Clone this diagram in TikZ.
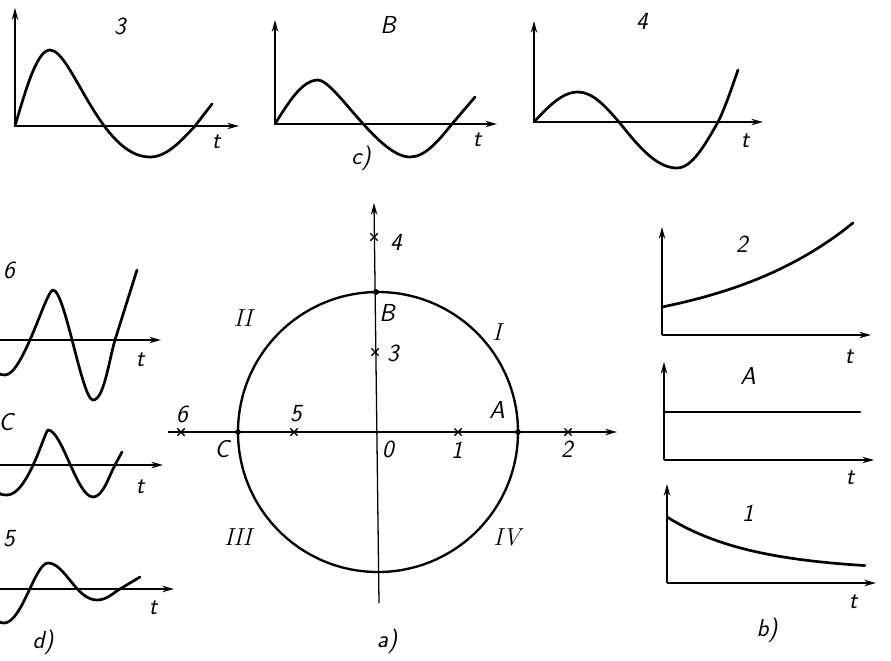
\documentclass[tikz,border=0pt]{standalone}
\usepackage{fontspec}
\usetikzlibrary{arrows.meta,shapes.misc}

\begin{document}
\begin{tikzpicture}[x=0.03cm,y=-0.03cm,
  axis/.style={line width=1.1pt,-{Stealth[length=10pt,width=5.5pt]}},
  curve/.style={line width=2.3pt,line cap=round,line join=round},
  lbl/.style={inner sep=0pt,font=\fontsize{21}{24}\sffamily\itshape},
  roman/.style={inner sep=0pt,font=\fontsize{21}{24}\itshape},
  xmark/.style={cross out,draw,line width=1.2pt,minimum size=5pt,inner sep=0pt},
  dot/.style={circle,fill,inner sep=0pt,minimum size=5pt}]
\path[use as bounding box] (0,0) rectangle (891,660);

% a) z-plane with unit circle
\coordinate (O) at (378,432);
\coordinate (xl) at (168,432);
\coordinate (xr) at (617,432);
\coordinate (yb) at (379,603);
\coordinate (yt) at (374,203);
\draw[axis] (xl) -- (xr);
\draw[axis] (yb) -- (yt);
\draw[line width=2pt] (O) circle (140);
\node[dot] (A) at (518,432) {};
\node[dot] (B) at (376,292) {};
\node[dot] (C) at (238,432) {};
\node[xmark] (p1) at (458,432) {};
\node[xmark] (p2) at (568,432) {};
\node[xmark] (p3) at (375,352) {};
\node[xmark] (p4) at (374,237) {};
\node[xmark] (p5) at (294,432) {};
\node[xmark] (p6) at (181,432) {};
\node[lbl] (lA) at (497,410) {A};
\node[lbl] (lB) at (387,313) {B};
\node[lbl] (lC) at (222,449) {C};
\node[lbl] (lO) at (388,449) {0};
\node[lbl] (l1) at (457,450) {1};
\node[lbl] (l2) at (567,449) {2};
\node[lbl] (l3) at (393,353) {3};
\node[lbl] (l4) at (396,242) {4};
\node[lbl] (l5) at (296,414) {5};
\node[lbl] (l6) at (182,414) {6};
\node[roman] (qI) at (497,332) {I};
\node[roman] (qII) at (243,318) {II};
\node[roman] (qIII) at (238,537) {III};
\node[roman] (qIV) at (507,537) {IV};
\node[lbl] (ca) at (387,641) {a)};

% b) real poles
\coordinate (o2) at (662,335);
\coordinate (y2) at (662,227);
\coordinate (x2) at (871,335);
\draw[axis] (o2) -- (y2);
\draw[axis] (o2) -- (x2);
\draw[curve] plot[domain=662:853,samples=40] (\x,{335-28*exp(0.00726*(\x-662))});
\node[lbl] (n2) at (742,244) {2};
\node[lbl] (t2) at (849,357) {t};

\coordinate (oA) at (664,460);
\coordinate (yA) at (664,362);
\coordinate (xA) at (874,460);
\draw[axis] (oA) -- (yA);
\draw[axis] (oA) -- (xA);
\draw[curve] (664,412) -- (860,412);
\node[lbl] (nA) at (748,376) {A};
\node[lbl] (tA) at (850,478) {t};

\coordinate (o1) at (667,583);
\coordinate (y1) at (667,484);
\coordinate (x1) at (876,583);
\draw[axis] (o1) -- (y1);
\draw[axis] (o1) -- (x1);
\draw[curve] plot[domain=667:865,samples=40] (\x,{583-12-54*exp(-0.0116*(\x-667))});
\node[lbl] (n1) at (748,513) {1};
\node[lbl] (t1) at (853,602) {t};
\node[lbl] (cb) at (767,630) {b)};

% c) poles on the imaginary axis
\coordinate (o3) at (15,126);
\coordinate (y3) at (15,8);
\coordinate (x3) at (239,126);
\draw[axis] (o3) -- (y3);
\draw[axis] (o3) -- (x3);
\draw[curve] (15,126) sin (50,50) .. controls (72,50) and (100,157) .. (150,157)
  cos (195,126) -- (212,104);
\node[lbl] (n3) at (120,26) {3};
\node[lbl] (t3) at (216,142) {t};

\coordinate (oB) at (275,124);
\coordinate (yB) at (275,20);
\coordinate (xB) at (497,124);
\draw[axis] (oB) -- (yB);
\draw[axis] (oB) -- (xB);
\draw[curve] (275,124) sin (318,80) .. controls (335,80) and (378,157) .. (410,157)
  cos (452,124) -- (475,97);
\node[lbl] (nB) at (388,25) {B};
\node[lbl] (tB) at (477,140) {t};
\node[lbl] (cc) at (361,158) {c)};

\coordinate (o4) at (534,122);
\coordinate (y4) at (534,21);
\coordinate (x4) at (763,122);
\draw[axis] (o4) -- (y4);
\draw[axis] (o4) -- (x4);
\draw[curve] (534,122) sin (578,92) cos (619,122) sin (677,168) cos (718,122)
  .. controls (725,108) and (731,90) .. (738,70);
\node[lbl] (n4) at (642,21) {4};
\node[lbl] (t4) at (745,141) {t};

% d) negative real poles
\coordinate (x6l) at (0,340);
\coordinate (x6) at (161,340);
\draw[axis] (x6l) -- (x6);
\draw[curve] (-15,345) .. controls (-5,375) and (0,375) .. (5,375)
  .. controls (23,375) and (46,290) .. (53,290)
  .. controls (65,290) and (82,400) .. (93,400)
  .. controls (104,400) and (109,360) .. (115,340) -- (137,270);
\node[lbl] (n6) at (9,270) {6};
\node[lbl] (t6) at (140,360) {t};

\coordinate (xCl) at (0,465);
\coordinate (xC) at (163,465);
\draw[axis] (xCl) -- (xC);
\draw[curve] (-15,475) .. controls (-2,495) and (0,495) .. (7,495)
  .. controls (28,495) and (45,430) .. (48,430)
  .. controls (62,430) and (77,497) .. (93,497)
  .. controls (103,497) and (109,476) .. (115,465) -- (122,452);
\node[lbl] (nC) at (6,422) {C};
\node[lbl] (tC) at (140,487) {t};

\coordinate (x5l) at (0,589);
\coordinate (x5) at (174,589);
\draw[axis] (x5l) -- (x5);
\draw[curve] (-15,600) .. controls (-3,623) and (0,623) .. (4,623)
  .. controls (22,623) and (35,563) .. (48,563)
  .. controls (65,563) and (76,600) .. (97,600)
  .. controls (107,600) and (113,593) .. (120,589) -- (140,577);
\node[lbl] (n5) at (9,539) {5};
\node[lbl] (t5) at (153,608) {t};
\node[lbl] (cd) at (43,642) {d)};
\end{tikzpicture}
\end{document}
